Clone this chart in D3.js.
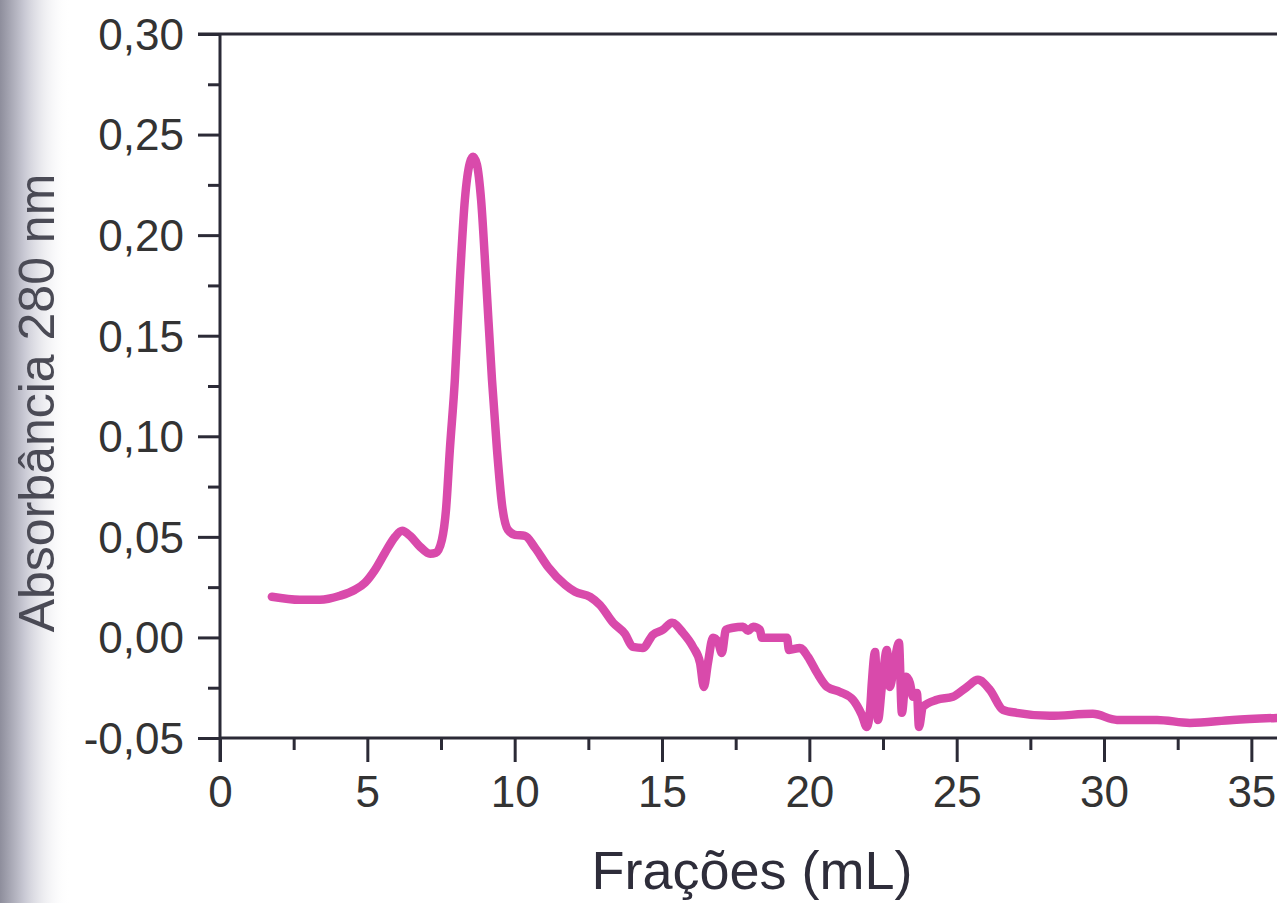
<!DOCTYPE html>
<html><head><meta charset="utf-8">
<script src="https://cdn.jsdelivr.net/npm/d3@7"></script>
<style>html,body{margin:0;padding:0;background:#fff;overflow:hidden}</style>
</head><body>
<svg id="chart" width="1277" height="903"></svg>
<script>
// Data (x in mL, y in absorbance)
const fracoes = [1.76,2.71,3.39,4.07,4.58,4.92,5.26,5.60,5.94,6.18,6.45,6.79,7.13,7.33,7.53,7.67,7.80,7.97,8.14,8.31,8.48,8.59,8.72,8.86,9.03,9.23,9.40,9.57,9.77,10.01,10.35,10.69,11.13,11.71,12.05,12.56,12.89,13.34,13.74,14.01,14.35,14.69,15.03,15.34,15.71,16.05,16.29,16.42,16.56,16.73,16.90,17.03,17.17,17.41,17.75,17.92,18.09,18.32,18.39,19.24,19.31,19.68,19.95,20.26,20.60,21.04,21.48,21.78,21.95,22.06,22.12,22.23,22.33,22.46,22.63,22.73,22.90,23.04,23.14,23.28,23.41,23.52,23.65,23.72,23.85,24.33,24.87,25.35,25.72,26.13,26.57,27.04,28.16,29.62,30.44,31.80,32.91,34.37,35.87];
const absorbancia = [0.0202,0.0187,0.0187,0.0207,0.0237,0.0272,0.0336,0.0421,0.0500,0.0530,0.0505,0.0451,0.0416,0.0421,0.0485,0.0635,0.0933,0.1281,0.1778,0.2176,0.2360,0.2390,0.2350,0.2176,0.1778,0.1281,0.0933,0.0660,0.0535,0.0510,0.0505,0.0446,0.0351,0.0262,0.0227,0.0202,0.0162,0.0073,0.0018,-0.0047,-0.0052,0.0013,0.0038,0.0073,0.0023,-0.0047,-0.0126,-0.0246,-0.0126,-0.0002,-0.0022,-0.0077,0.0038,0.0048,0.0053,0.0033,0.0053,0.0038,-0.0002,-0.0002,-0.0062,-0.0052,-0.0096,-0.0176,-0.0246,-0.0271,-0.0310,-0.0385,-0.0445,-0.0360,-0.0226,-0.0072,-0.0410,-0.0246,-0.0062,-0.0246,-0.0111,-0.0027,-0.0375,-0.0196,-0.0226,-0.0295,-0.0276,-0.0445,-0.0345,-0.0310,-0.0295,-0.0246,-0.0211,-0.0261,-0.0360,-0.0375,-0.0390,-0.0380,-0.0410,-0.0410,-0.0425,-0.0410,-0.0400];
const xTicks = [0,5,10,15,20,25,30,35];
const xMinorTicks = [2.5,7.5,12.5,17.5,22.5,27.5,32.5];
const yTicks = [-0.05,0,0.05,0.10,0.15,0.20,0.25,0.30];
const yMinorTicks = [-0.025,0.025,0.075,0.125,0.175,0.225,0.275];
const xTitle = "Frações (mL)";
const yTitle = "Absorbância 280 nm";

const svg = d3.select("#chart");
const axisColor = "#2b2a36";
const textColor = "#333";
const font = "Liberation Sans, Arial, sans-serif";
const fmt = v => d3.format(".2f")(v).replace(".", ",").replace("−","-");

// scan shadow on the left edge
const defs = svg.append("defs");
const g = defs.append("linearGradient").attr("id","shade").attr("x1","0").attr("x2","1");
g.append("stop").attr("offset","0").attr("stop-color","#8e8e9c");
g.append("stop").attr("offset","0.35").attr("stop-color","#c9c9d4");
g.append("stop").attr("offset","1").attr("stop-color","#ffffff").attr("stop-opacity","0");
svg.append("rect").attr("x",0).attr("y",0).attr("width",70).attr("height",903).attr("fill","url(#shade)");

const x = d3.scaleLinear().domain([0, 35.87]).range([220, 1277]);
const y = d3.scaleLinear().domain([-0.05, 0.30]).range([738, 34]);

// y axis
const yAxis = svg.append("g").attr("transform","translate(220,0)")
  .call(d3.axisLeft(y).tickValues(yTicks).tickSize(22).tickPadding(14).tickFormat(fmt));
yAxis.select(".domain").remove();
yAxis.selectAll(".tick line").attr("stroke",axisColor).attr("stroke-width",3);
yAxis.selectAll(".tick text").attr("fill",textColor).attr("font-size",44)
  .attr("font-family",font).attr("dy","0.35em");
svg.append("g").attr("transform","translate(220,0)")
  .call(d3.axisLeft(y).tickValues(yMinorTicks).tickSize(12).tickFormat(""))
  .call(s=>s.select(".domain").remove())
  .selectAll(".tick line").attr("stroke",axisColor).attr("stroke-width",3);
svg.append("line").attr("x1",220).attr("x2",220).attr("y1",y(0.30)).attr("y2",762)
  .attr("stroke",axisColor).attr("stroke-width",3);

// top line
svg.append("line").attr("x1",198).attr("x2",1277).attr("y1",y(0.30)).attr("y2",y(0.30))
  .attr("stroke",axisColor).attr("stroke-width",3);

// x axis
const xAxis = svg.append("g").attr("transform","translate(0,738)")
  .call(d3.axisBottom(x).tickValues(xTicks).tickSize(24).tickPadding(14).tickFormat(d3.format("d")));
xAxis.select(".domain").remove();
xAxis.selectAll(".tick line").attr("stroke",axisColor).attr("stroke-width",3);
xAxis.selectAll(".tick text").attr("fill",textColor).attr("font-size",44)
  .attr("font-family",font);
svg.append("g").attr("transform","translate(0,738)")
  .call(d3.axisBottom(x).tickValues(xMinorTicks).tickSize(12).tickFormat(""))
  .call(s=>s.select(".domain").remove())
  .selectAll(".tick line").attr("stroke",axisColor).attr("stroke-width",3);
svg.append("line").attr("x1",220).attr("x2",1277).attr("y1",738).attr("y2",738)
  .attr("stroke",axisColor).attr("stroke-width",3);

// titles
svg.append("text").attr("x",752).attr("y",889).attr("text-anchor","middle")
  .attr("font-size",54).attr("font-family",font)
  .attr("fill","#2e2d3a").text(xTitle);
svg.append("text").attr("transform","translate(54,403) rotate(-90)").attr("text-anchor","middle")
  .attr("font-size",50).attr("font-family",font)
  .attr("fill","#4a4a55").text(yTitle);

// line
const data = fracoes.map((f,i)=>[f, absorbancia[i]]);
svg.append("path").datum(data)
  .attr("fill","none").attr("stroke","#d94aab").attr("stroke-width",8.5)
  .attr("stroke-linejoin","round").attr("stroke-linecap","round")
  .attr("d", d3.line().x(d=>x(d[0])).y(d=>y(d[1])).curve(d3.curveMonotoneX));
</script>
</body></html>
